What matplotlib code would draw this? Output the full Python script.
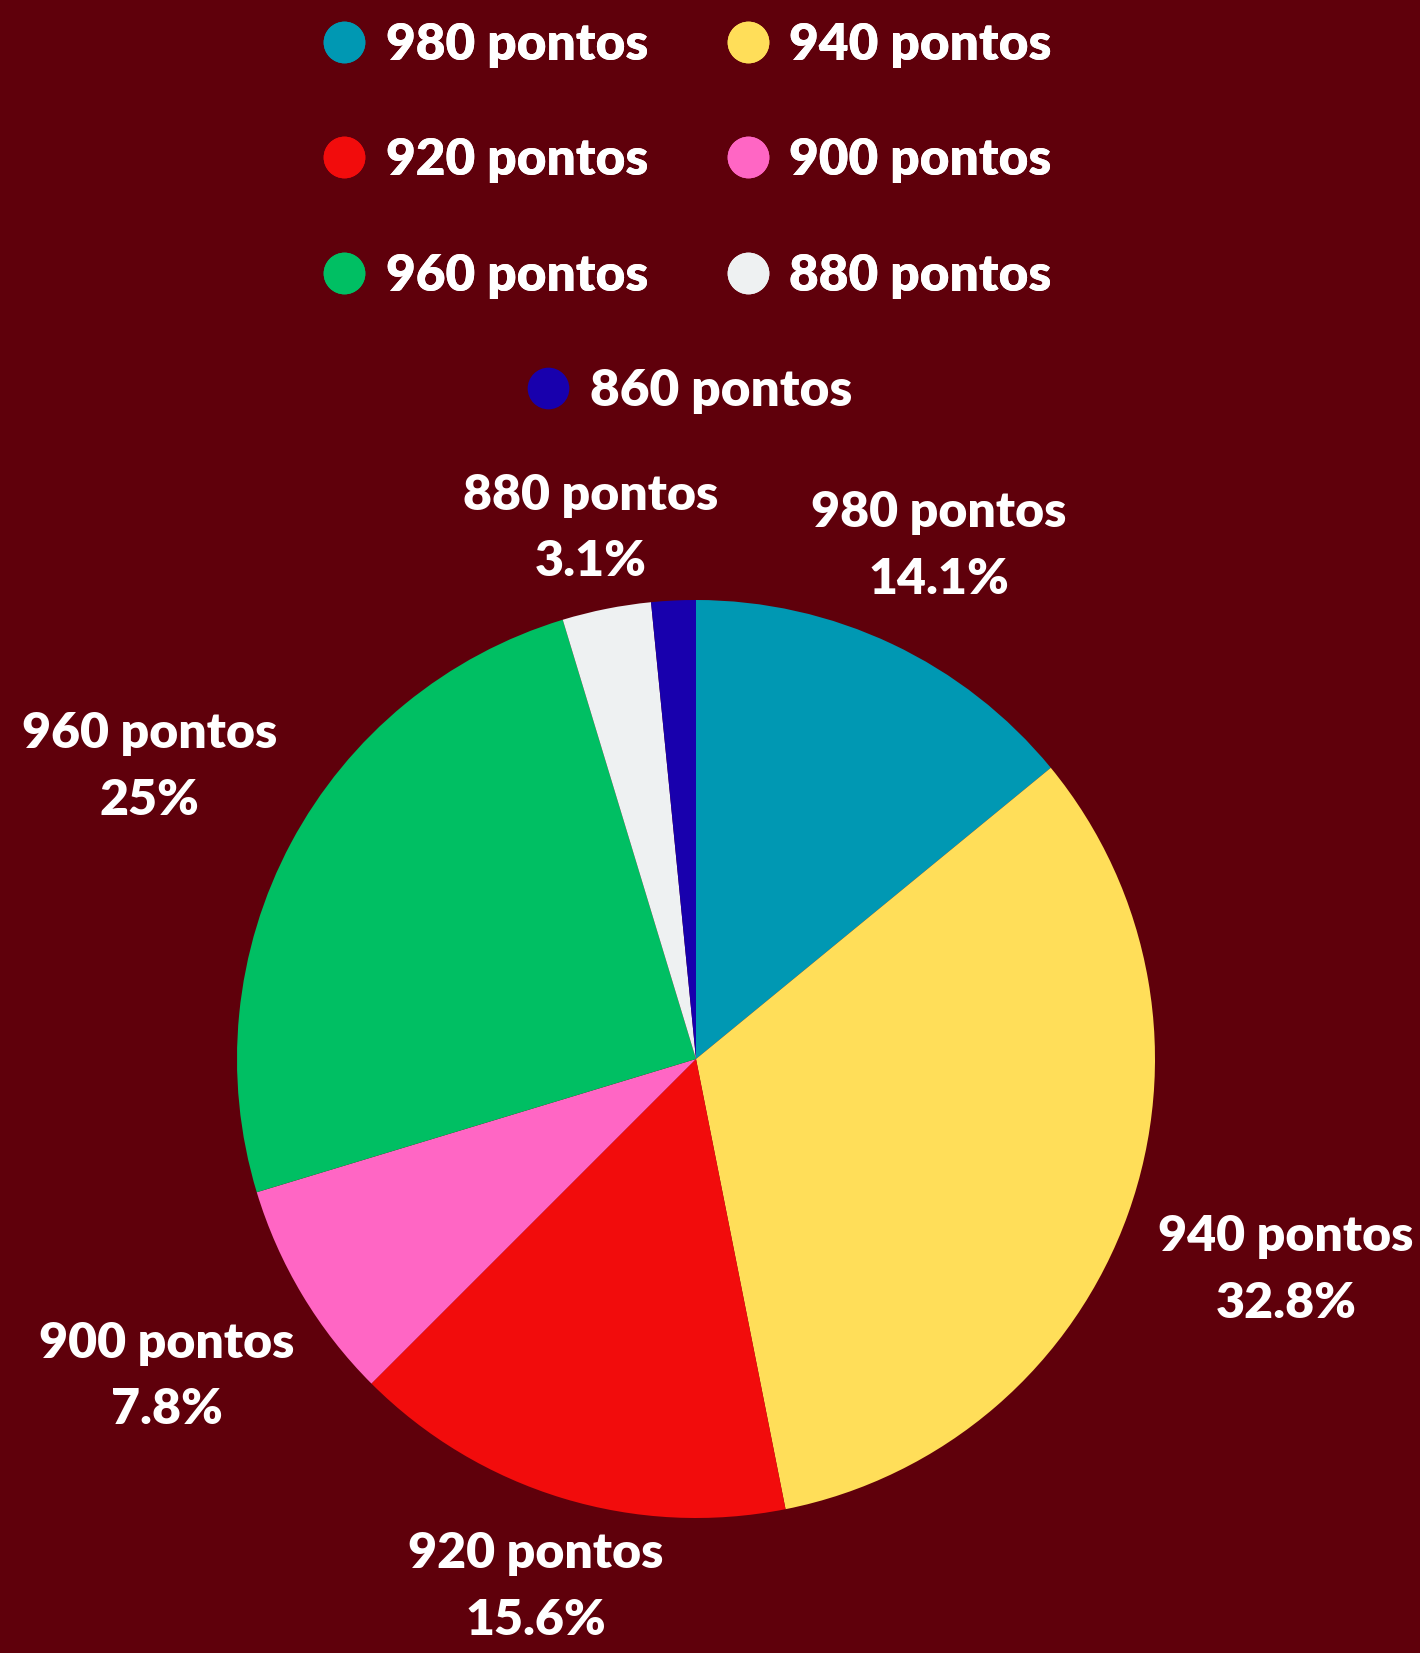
import numpy as np
import matplotlib.pyplot as plt
from matplotlib.lines import Line2D

plt.rcParams['font.family'] = ['Lato', 'DejaVu Sans']

# data (counts out of 64)
labels = ['980 pontos', '940 pontos', '920 pontos', '900 pontos',
          '960 pontos', '880 pontos', '860 pontos']
counts = [9, 21, 10, 5, 16, 2, 1]
colors = ['#0098b3', '#ffde59', '#f20c0c', '#ff66c4',
          '#00bf63', '#eef1f2', '#1800ad']

bg = '#5f000b'
fig = plt.figure(figsize=(14.2, 16.53), dpi=100)
fig.patch.set_facecolor(bg)

# pie centre ~ (696, 1059) px, radius ~459 px
cx, cy, r = 696 / 1420, 1 - 1059 / 1653, 459
ax = fig.add_axes([cx - r / 1420, cy - r / 1653, 2 * r / 1420, 2 * r / 1653])
ax.set_facecolor(bg)
wedges, _ = ax.pie(counts, colors=colors, startangle=90, counterclock=False,
                   radius=1, wedgeprops=dict(linewidth=0))
ax.set_xlim(-1, 1)
ax.set_ylim(-1, 1)
ax.axis('off')

total = sum(counts)
for w, lab, c in zip(wedges, labels, counts):
    pct = 100 * c / total
    if pct < 2:
        continue
    ang = np.deg2rad((w.theta1 + w.theta2) / 2)
    d = 1.13 + 0.25 * abs(np.cos(ang))
    pct_txt = f'{pct:.1f}'.rstrip('0').rstrip('.') + '%'
    ax.text(d * np.cos(ang), d * np.sin(ang), f'{lab}\n{pct_txt}',
            ha='center', va='center', color='white', fontsize=36,
            fontweight='heavy', linespacing=1.58, clip_on=False)

# legend: row-major 2 columns, last item centred on its own row
def handle(i):
    return Line2D([], [], marker='o', linestyle='', markersize=30,
                  markerfacecolor=colors[i], markeredgewidth=0)

order = [0, 2, 4, 1, 3, 5]
kw = dict(frameon=False, labelcolor='white', handlelength=1.0,
          handletextpad=0.3, borderpad=0, borderaxespad=0,
          prop=dict(weight='heavy', size=37))
leg1 = fig.legend([handle(i) for i in order], [labels[i] for i in order],
                  ncol=2, loc='upper center', bbox_to_anchor=(0.4825, 1 - 22 / 1653),
                  labelspacing=1.35, columnspacing=1.45, **kw)
leg2 = fig.legend([handle(6)], [labels[6]], loc='upper center',
                  bbox_to_anchor=(0.484, 1 - 368 / 1653), **kw)
fig.add_artist(leg1)

fig.savefig('out.png', dpi=100, facecolor=bg)
